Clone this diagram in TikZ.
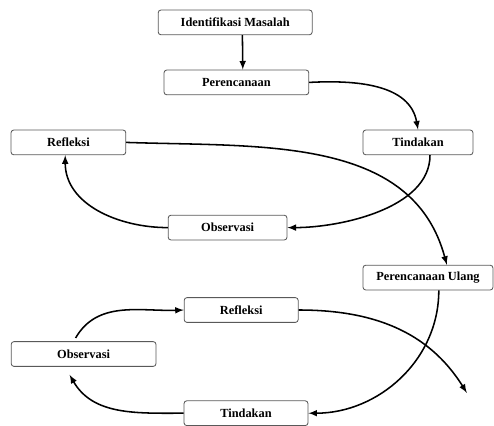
\documentclass[tikz,border=0pt]{standalone}
\usepackage{fontspec}
\setmainfont{Liberation Serif}
\usetikzlibrary{arrows}
\usetikzlibrary{shapes}

\begin{document}
\begin{tikzpicture}

\tikzstyle{stage}=[rectangle, rounded corners=2pt, draw=black!65, line width=0.6pt, minimum height=6.2mm, inner sep=1pt, font=\fontsize{8.8}{10}\selectfont\bfseries]
\tikzstyle{connect}=[-latex, line width=1.1pt, black]

\useasboundingbox (0,0) rectangle (12.35,-10.65);

% first cycle
\node[stage, minimum width=38.5mm] (idm) at (5.88,-0.56) {Identifikasi Masalah};
\node[stage, minimum width=36.2mm] (plan) at (5.91,-2.06) {Perencanaan};
\node[stage, minimum width=28.7mm] (refl1) at (1.71,-3.56) {Refleksi};
\node[stage, minimum width=27.5mm] (act1) at (10.45,-3.56) {Tindakan};
\node[stage, minimum width=29.7mm] (obs1) at (5.69,-5.69) {Observasi};

% second cycle
\node[stage, minimum width=32.5mm] (replan) at (10.7,-6.94) {Perencanaan Ulang};
\node[stage, minimum width=28.5mm] (refl2) at (6.03,-7.75) {Refleksi};
\node[stage, minimum width=36.2mm] (obs2) at (2.09,-8.85) {Observasi};
\node[stage, minimum width=31mm] (act2) at (6.15,-10.33) {Tindakan};
\coordinate (next) at (11.67,-9.82);

\path ([xshift=0.18cm]idm.south) [connect] edge ([xshift=0.16cm]plan.north);
\path (plan.east) [connect] edge[out=3, in=100] (act1.north);
\path ([xshift=0.3cm]act1.south) [connect] edge[out=-90, in=0, looseness=0.85] (obs1.east);
\path (obs1.west) [connect] edge[out=180, in=-90] ([xshift=-0.08cm]refl1.south);
\path (refl1.east) [connect] edge[out=-2, in=105] ([xshift=0.47cm]replan.north);

\path ([xshift=0.27cm]replan.south) [connect] edge[out=-90, in=0] (act2.east);
\path (act2.west) [connect] edge[out=180, in=-60] ([xshift=-0.35cm, yshift=-0.2cm]obs2.south);
\path ([xshift=-0.2cm, yshift=0.08cm]obs2.north) [connect] edge[out=60, in=182] (refl2.west);
\path (refl2.east) [connect] edge[out=0, in=122] (next);

\end{tikzpicture}
\end{document}
